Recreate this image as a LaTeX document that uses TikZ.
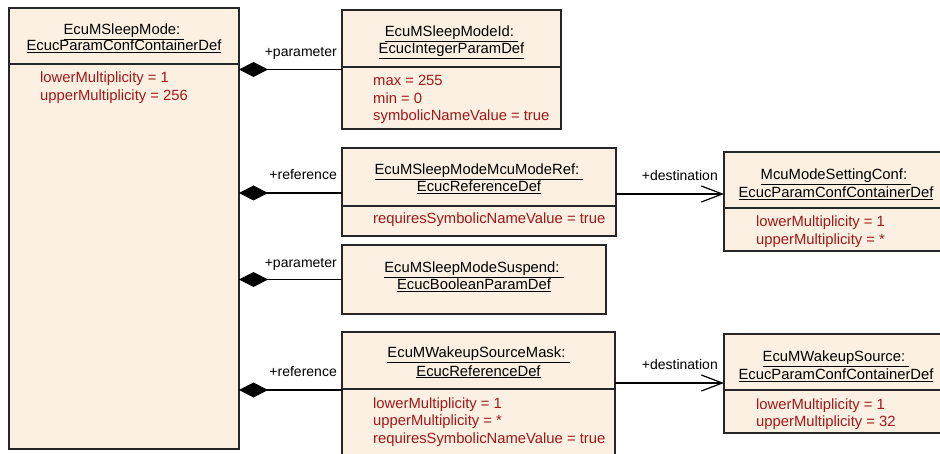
\documentclass[tikz,border=0pt]{standalone}
\usepackage{fontspec}
\setmainfont{Liberation Sans}
\usepackage{xcolor}
\usepackage{tikz}
\usetikzlibrary{arrows.meta, calc}

\definecolor{clsfill}{RGB}{251,240,226}
\definecolor{attrred}{RGB}{160,24,24}

\begin{document}
\begin{tikzpicture}[x=1pt,y=-1pt,
  cls/.style={draw=black!85,fill=clsfill,line width=1.2pt,rectangle,anchor=north west,inner sep=0pt,outer sep=0pt},
  septr/.style={draw=black!85,line width=1.2pt},
  title/.style={font=\fontsize{14.8}{17}\selectfont,anchor=base,inner sep=0pt},
  attr/.style={font=\fontsize{14.8}{17}\selectfont,text=attrred,anchor=base west,inner sep=0pt},
  role/.style={font=\fontsize{14}{16}\selectfont,anchor=base east,inner sep=0pt},
  compose/.style={line width=1.2pt,-{Diamond[length=29pt,width=15pt,fill=black]}},
  navig/.style={line width=1.2pt,-{Straight Barb[length=21pt,width=16pt]}}]
  \useasboundingbox (0,0) rectangle (940,454);

  % ---- container ----
  \node[cls,minimum width=230pt,minimum height=441pt] (smode) at (9,8) {};
  \draw[septr] ([yshift=-56pt]smode.north west) -- ([yshift=-56pt]smode.north east);
  \node[title] (smode-t1) at ([yshift=-26.5pt]smode.north) {\underline{EcuMSleepMode:\ }};
  \node[title] (smode-t2) at ([yshift=-43pt]smode.north) {\underline{EcucParamConfContainerDef}};
  \foreach \a [count=\i] in {lowerMultiplicity = 1, upperMultiplicity = 256}
    \node[attr] (smode-a\i) at ($(smode.north west)+(31,56+19+17.5*\i-17.5)$) {\a};

  % ---- sub elements ----
  \node[cls,minimum width=219pt,minimum height=119pt] (sid) at (342,10) {};
  \draw[septr] ([yshift=-57pt]sid.north west) -- ([yshift=-57pt]sid.north east);
  \node[title] (sid-t1) at ([yshift=-27pt]sid.north) {\underline{EcuMSleepModeId:\ }};
  \node[title] (sid-t2) at ([yshift=-44pt]sid.north) {\underline{EcucIntegerParamDef}};
  \foreach \a [count=\i] in {max = 255, min = 0, symbolicNameValue = true}
    \node[attr] (sid-a\i) at ($(sid.north west)+(31,57+19+17.5*\i-17.5)$) {\a};

  \node[cls,minimum width=274pt,minimum height=88pt] (mcuref) at (342,148) {};
  \draw[septr] ([yshift=-58pt]mcuref.north west) -- ([yshift=-58pt]mcuref.north east);
  \node[title] (mcuref-t1) at ([yshift=-27pt]mcuref.north) {\underline{EcuMSleepModeMcuModeRef:\ }};
  \node[title] (mcuref-t2) at ([yshift=-44pt]mcuref.north) {\underline{EcucReferenceDef}};
  \node[attr] (mcuref-a1) at ($(mcuref.north west)+(31,58+18)$) {requiresSymbolicNameValue = true};

  \node[cls,minimum width=264pt,minimum height=69pt] (susp) at (342,245) {};
  \node[title] (susp-t1) at ([yshift=-27.5pt]susp.north) {\underline{EcuMSleepModeSuspend:\ }};
  \node[title] (susp-t2) at ([yshift=-44.5pt]susp.north) {\underline{EcucBooleanParamDef}};

  \node[cls,minimum width=273pt,minimum height=140pt] (wsmask) at (342,332) {};
  \draw[septr] ([yshift=-57pt]wsmask.north west) -- ([yshift=-57pt]wsmask.north east);
  \node[title] (wsmask-t1) at ([yshift=-26pt]wsmask.north) {\underline{EcuMWakeupSourceMask:\ }};
  \node[title] (wsmask-t2) at ([yshift=-44pt]wsmask.north) {\underline{EcucReferenceDef}};
  \foreach \a [count=\i] in {lowerMultiplicity = 1, upperMultiplicity = *, requiresSymbolicNameValue = true}
    \node[attr] (wsmask-a\i) at ($(wsmask.north west)+(31,57+19+17.5*\i-17.5)$) {\a};

  % ---- destinations ----
  \node[cls,minimum width=224pt,minimum height=99pt] (mcuconf) at (724,152) {};
  \draw[septr] ([yshift=-56pt]mcuconf.north west) -- ([yshift=-56pt]mcuconf.north east);
  \node[title] (mcuconf-t1) at ([yshift=-28pt]mcuconf.north) {\underline{McuModeSettingConf:\ }};
  \node[title] (mcuconf-t2) at ([yshift=-45.5pt]mcuconf.north) {\underline{EcucParamConfContainerDef}};
  \foreach \a [count=\i] in {lowerMultiplicity = 1, upperMultiplicity = *}
    \node[attr] (mcuconf-a\i) at ($(mcuconf.north west)+(32,56+19+17.5*\i-17.5)$) {\a};

  \node[cls,minimum width=224pt,minimum height=99pt] (wsrc) at (724,334) {};
  \draw[septr] ([yshift=-56pt]wsrc.north west) -- ([yshift=-56pt]wsrc.north east);
  \node[title] (wsrc-t1) at ([yshift=-28pt]wsrc.north) {\underline{EcuMWakeupSource:\ }};
  \node[title] (wsrc-t2) at ([yshift=-45.5pt]wsrc.north) {\underline{EcucParamConfContainerDef}};
  \foreach \a [count=\i] in {lowerMultiplicity = 1, upperMultiplicity = 32}
    \node[attr] (wsrc-a\i) at ($(wsrc.north west)+(32,56+19+17.5*\i-17.5)$) {\a};

  % ---- compositions ----
  \coordinate (p1) at ($(sid.north west)+(0,59.5)$);
  \coordinate (r1) at ($(mcuref.north west)+(0,45)$);
  \coordinate (p2) at ($(susp.north west)+(0,34.5)$);
  \coordinate (r2) at ($(wsmask.north west)+(0,58)$);
  \draw[compose] (p1) -- (p1 -| smode.east);
  \draw[compose] (r1) -- (r1 -| smode.east);
  \draw[compose] (p2) -- (p2 -| smode.east);
  \draw[compose] (r2) -- (r2 -| smode.east);
  \node[role] (p1-l) at ($(p1)+(-5,-13)$) {+parameter};
  \node[role] (r1-l) at ($(r1)+(-5,-13)$) {+reference};
  \node[role] (p2-l) at ($(p2)+(-5,-12)$) {+parameter};
  \node[role] (r2-l) at ($(r2)+(-5,-13)$) {+reference};

  % ---- references ----
  \coordinate (d1) at ($(mcuconf.north west)+(0,42)$);
  \coordinate (d2) at ($(wsrc.north west)+(0,49)$);
  \draw[navig] (d1 -| mcuref.east) -- (d1);
  \draw[navig] (d2 -| wsmask.east) -- (d2);
  \node[role] (d1-l) at ($(d1)+(-6,-13)$) {+destination};
  \node[role] (d2-l) at ($(d2)+(-6,-13)$) {+destination};
\end{tikzpicture}
\end{document}
